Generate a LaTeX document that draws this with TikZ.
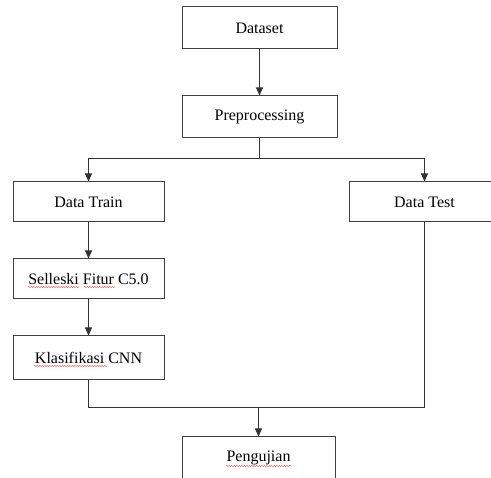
\documentclass[tikz,border=0pt]{standalone}
\usepackage{fontspec}
\setmainfont{Liberation Serif}
\usetikzlibrary{arrows.meta,decorations.pathmorphing}
\begin{document}
\begin{tikzpicture}[x=1pt,y=-1pt,
  box/.style={draw=black!75,line width=1pt,inner sep=0pt,font=\fontsize{16}{18}\selectfont},
  conn/.style={draw=black!80,line width=1pt},
  arr/.style={conn,-{Triangle[length=8pt,width=7pt]}},
  squig/.style={draw=red!70,line width=0.5pt,decorate,decoration={snake,amplitude=0.6pt,segment length=2.5pt}}]
\useasboundingbox (0,0) rectangle (491,478);
\clip (0,0) rectangle (491,478);
\node[box,minimum width=155pt,minimum height=42pt] (ds) at (259.5,28) {Dataset};
\node[box,minimum width=155pt,minimum height=42pt] (pp) at (259.5,117) {Preprocessing};
\node[box,minimum width=151pt,minimum height=40pt] (tr) at (88.5,202) {Data Train};
\node[box,minimum width=151pt,minimum height=40pt] (te) at (424.5,202) {Data Test};
\node[box,minimum width=151pt,minimum height=40pt] (sf) at (88.5,279) {Selleski Fitur C5.0};
\node[box,minimum width=151pt,minimum height=44pt] (kc) at (88.5,358) {Klasifikasi CNN};
\node[box,minimum width=153pt,minimum height=42pt] (pg) at (258.5,458) {Pengujian};
\coordinate (split) at (259.5,159);
\coordinate (merge) at (258.5,408);
\draw[arr] (ds) -- (pp);
\draw[conn] (pp) -- (split);
\draw[arr] (split) -| (tr);
\draw[arr] (split) -| (te);
\draw[arr] (tr) -- (sf);
\draw[arr] (sf) -- (kc);
\draw[conn] (kc.south) -- (kc.south |- merge) -- (te.south |- merge) -- (te.south);
\draw[arr] (merge) -- (pg);
\draw[squig] (28,287) -- (79,287);
\draw[squig] (84,287) -- (115,287);
\draw[squig] (34,366) -- (107,366);
\draw[squig] (226,466) -- (291,466);
\end{tikzpicture}
\end{document}
